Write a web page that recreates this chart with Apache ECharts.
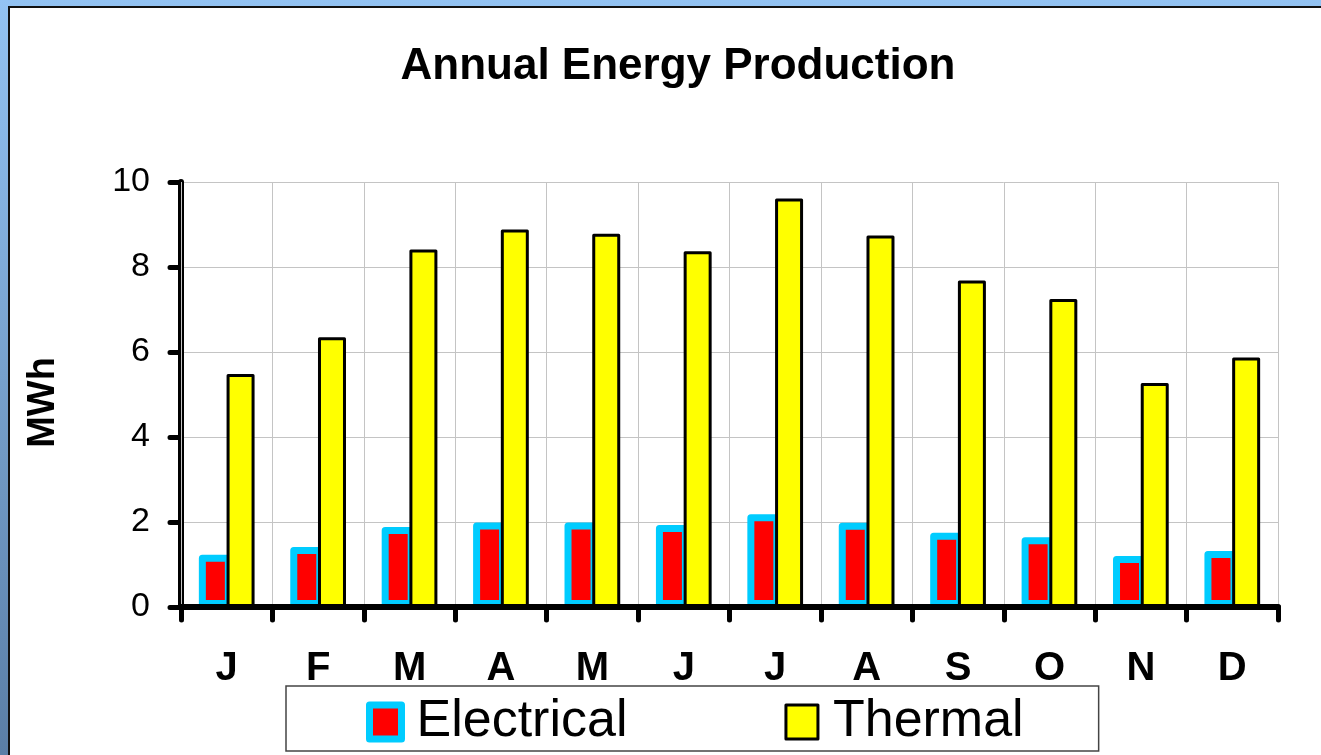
<!DOCTYPE html>
<html>
<head>
<meta charset="utf-8">
<title>Annual Energy Production</title>
<script src="https://cdn.jsdelivr.net/npm/echarts@6/dist/echarts.min.js"></script>
<style>
  html, body { margin: 0; padding: 0; background: #ffffff; }
  #chart { width: 1321px; height: 755px; }
</style>
</head>
<body>
<div id="chart"></div>
<script>
// Monthly energy output, MWh
const months = ['J', 'F', 'M', 'A', 'M', 'J', 'J', 'A', 'S', 'O', 'N', 'D'];
const electrical = [1.23, 1.41, 1.88, 1.99, 1.99, 1.93, 2.18, 1.98, 1.75, 1.64, 1.20, 1.32];
const thermal = [5.48, 6.35, 8.41, 8.88, 8.78, 8.37, 9.61, 8.74, 7.68, 7.25, 5.27, 5.87];
const yTicks = { min: 0, max: 10, interval: 2 };

const FONT = 'Arial, "Liberation Sans", Helvetica, sans-serif';
const CYAN = '#00CCFF';
const RED = '#FF0000';
const YELLOW = '#FFFF00';

const chart = echarts.init(document.getElementById('chart'), null, { renderer: 'canvas' });

chart.setOption({
  animation: false,
  backgroundColor: 'transparent',
  textStyle: { fontFamily: FONT },
  graphic: [
    {
      // blue frame behind the chart sheet
      type: 'rect',
      z: -10,
      silent: true,
      shape: { x: 0, y: 0, width: 1321, height: 755 },
      style: {
        fill: new echarts.graphic.LinearGradient(0, 0, 0, 1, [
          { offset: 0, color: '#93c3f3' },
          { offset: 1, color: '#5a7ea6' }
        ])
      }
    },
    {
      // white chart sheet
      type: 'rect',
      z: -9,
      silent: true,
      shape: { x: 9, y: 7, width: 1400, height: 800 },
      style: { fill: '#ffffff', stroke: '#111111', lineWidth: 2 }
    }
  ],
  title: {
    text: 'Annual Energy Production',
    left: 673,
    top: 40,
    textAlign: 'center',
    textStyle: { fontFamily: FONT, fontSize: 44, fontWeight: 'bold', color: '#000' }
  },
  legend: {
    left: 286,
    top: 686,
    padding: [10, 75, 3, 80],
    itemGap: 157,
    itemWidth: 32,
    itemHeight: 34,
    icon: 'rect',
    borderColor: '#444444',
    borderWidth: 1.5,
    backgroundColor: '#ffffff',
    textStyle: { fontFamily: FONT, fontSize: 52, color: '#000', padding: [0, 0, 0, 10] },
    data: [
      { name: 'Electrical', itemStyle: { color: RED, borderColor: CYAN, borderWidth: 7 } },
      { name: 'Thermal', itemStyle: { color: YELLOW, borderColor: '#000', borderWidth: 3 } }
    ]
  },
  grid: { left: 181, right: 43, top: 182, bottom: 148, containLabel: false },
  xAxis: {
    type: 'category',
    data: months,
    z: 5,
    boundaryGap: true,
    axisLine: { show: true, lineStyle: { color: '#000', width: 6, cap: 'round' } },
    axisTick: { show: true, alignWithLabel: false, length: 13, lineStyle: { color: '#000', width: 5, cap: 'round' } },
    splitLine: { show: true, lineStyle: { color: '#c4c4c4', width: 1 } },
    axisLabel: { color: '#000', fontFamily: FONT, fontSize: 40, fontWeight: 'bold', margin: 42 }
  },
  yAxis: {
    type: 'value',
    min: yTicks.min,
    max: yTicks.max,
    interval: yTicks.interval,
    name: 'MWh',
    nameLocation: 'middle',
    nameRotate: 90,
    nameGap: 118,
    nameTextStyle: { fontFamily: FONT, fontSize: 38, fontWeight: 'bold', color: '#000', padding: [0, 16, 0, 0] },
    axisLine: { show: true, lineStyle: { color: '#000', width: 6, cap: 'round' } },
    axisTick: { show: true, length: 11, lineStyle: { color: '#000', width: 5, cap: 'round' } },
    splitLine: { show: true, lineStyle: { color: '#c4c4c4', width: 1 } },
    axisLabel: { color: '#000', fontFamily: FONT, fontSize: 34, margin: 31 }
  },
  series: [
    {
      name: 'Electrical',
      type: 'bar',
      data: electrical,
      barWidth: 33,
      barGap: '-16%',
      itemStyle: { color: RED, borderColor: CYAN, borderWidth: 7, borderJoin: 'round' }
    },
    {
      name: 'Thermal',
      type: 'bar',
      data: thermal,
      barWidth: 28,
      barGap: '-16%',
      itemStyle: { color: YELLOW, borderColor: '#000', borderWidth: 3, borderJoin: 'round' }
    }
  ]
});
</script>
</body>
</html>
